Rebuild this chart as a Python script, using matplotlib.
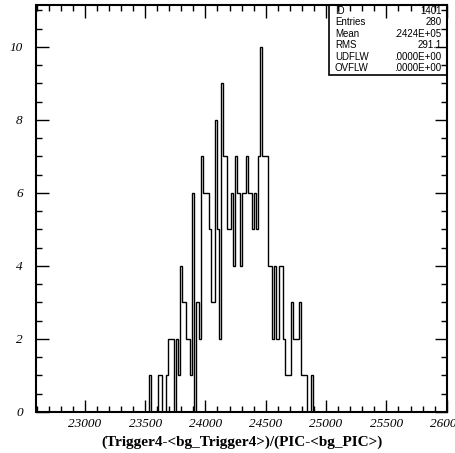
import numpy as np
import matplotlib
matplotlib.use("Agg")
import matplotlib.pyplot as plt
from matplotlib.ticker import MultipleLocator

# histogram definition (200 bins over 22600..26000), only filled bins listed
hist_lo, hist_hi, hist_nbins = 22600, 26000, 200
first_bin = 55
counts = [1, 0, 0, 0, 1, 1, 0, 0,
          1, 2, 2, 2, 0, 2, 1,
          4, 3, 3, 2, 2, 1, 6,
          0, 3, 2, 7, 6, 6, 6,
          5, 3, 3, 8, 5, 2, 9,
          7, 7, 5, 5, 6, 4, 7,
          6, 4, 6, 6, 7, 6, 6,
          5, 6, 5, 7, 10, 7, 7,
          7, 4, 4, 2, 4, 2, 4,
          4, 2, 1, 1, 1, 3, 2,
          2, 2, 3, 1, 1, 1, 0,
          0, 1, 0]

stat_names = ["ID", "Entries", "Mean", "RMS", "UDFLW", "OVFLW"]
stat_values = ["1401", "280", ".2424E+05", "291.1", ".0000E+00", ".0000E+00"]

xlabel = "(Trigger4-<bg_Trigger4>)/(PIC-<bg_PIC>)"

W, H = 456, 453
fig = plt.figure(figsize=(W / 100, H / 100), dpi=100)
ax = fig.add_axes([36.5 / W, 1 - 412 / H, (446.7 - 36.5) / W, (412 - 5) / H])

bw = (hist_hi - hist_lo) / hist_nbins
edges = hist_lo + bw * (first_bin + np.arange(len(counts) + 1))
ax.stairs(counts, edges, color="black", linewidth=1.0, baseline=0)

ax.set_xlim(hist_lo, hist_hi)
ax.set_ylim(0, 11.15)

ax.xaxis.set_major_locator(MultipleLocator(500))
ax.xaxis.set_minor_locator(MultipleLocator(100))
ax.yaxis.set_major_locator(MultipleLocator(2))
ax.yaxis.set_minor_locator(MultipleLocator(0.5))
ax.tick_params(which="both", direction="in", top=True, right=True, width=1.0)
ax.tick_params(which="major", length=9)
ax.tick_params(which="minor", length=4.5)
ax.tick_params(axis="x", pad=4)
ax.tick_params(axis="y", pad=10)
for s in ax.spines.values():
    s.set_linewidth(1.5)

tick_font = dict(family="Liberation Serif", style="italic", size=9.5)
for lab in ax.get_xticklabels() + ax.get_yticklabels():
    lab.set_fontfamily(tick_font["family"])
    lab.set_fontstyle(tick_font["style"])
    lab.set_fontsize(tick_font["size"])

ax.set_xlabel(xlabel, family="Liberation Serif", weight="bold", fontsize=11, labelpad=4)

# statistics box in top right corner
x0 = (329 - 36.5) / (446.7 - 36.5)
y0 = (412 - 75) / (412 - 5)
ax.add_patch(plt.Rectangle((x0, y0), 1 - x0, 1 - y0, transform=ax.transAxes,
                           facecolor="white", edgecolor="black", linewidth=1.2,
                           zorder=1, clip_on=False))
for i, (name, val) in enumerate(zip(stat_names, stat_values)):
    ypix = 10.7 + 11.5 * i
    fig.text(335 / W, 1 - ypix / H, name, family="Liberation Sans", fontsize=7,
             ha="left", va="center")
    fig.text(441.5 / W, 1 - ypix / H, val, family="Liberation Sans", fontsize=7,
             ha="right", va="center")

fig.savefig("out.png", dpi=100)
